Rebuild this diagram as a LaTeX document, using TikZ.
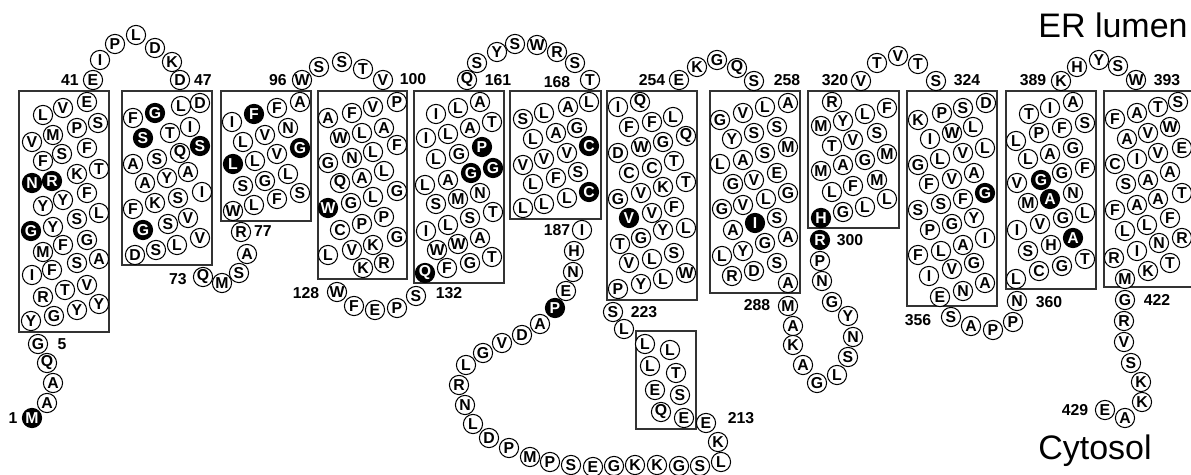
\documentclass[tikz,border=0pt]{standalone}
\usepackage{fontspec}
\setmainfont{Liberation Sans}
\usetikzlibrary{positioning}
\tikzset{
  reso/.style={circle, draw=black, fill=white, line width=0.5pt, inner sep=0pt,
               minimum size=9.6pt, font=\bfseries\fontsize{7.9}{8}\selectfont},
  resb/.style={reso, fill=black, text=white},
  tmbox/.style={draw=black!80, line width=0.7pt},
  num/.style={font=\bfseries\fontsize{7.9}{8}\selectfont, inner sep=0pt},
  side/.style={font=\fontsize{17}{18}\selectfont, inner sep=0pt},
}
% one segment of the chain: name, list of x/y/letter/(o|b)
\newcommand{\resseg}[2]{%
  \foreach \x/\y/\a/\s [count=\i] in {#2} {\node[res\s] (#1-\i) at (\x,\y) {\a};}}
\begin{document}
\begin{tikzpicture}[x=0.5pt,y=-0.5pt]
  \useasboundingbox (0,0) rectangle (1191,475);
  % membrane boxes
  \draw[tmbox] (19,91) rectangle (109,332);
  \draw[tmbox] (122,91) rectangle (212,265);
  \draw[tmbox] (221,91) rectangle (311,221);
  \draw[tmbox] (318,91) rectangle (407,279);
  \draw[tmbox] (414,91) rectangle (504,283);
  \draw[tmbox] (510,91) rectangle (601,219);
  \draw[tmbox] (636,331) rectangle (696,429);
  \draw[tmbox] (607,91) rectangle (697,300);
  \draw[tmbox] (710,91) rectangle (800,293);
  \draw[tmbox] (808,91) rectangle (899,228);
  \draw[tmbox] (907,91) rectangle (997,306);
  \draw[tmbox] (1006,91) rectangle (1096,289);
  \draw[tmbox] (1200,91) -- (1104,91) -- (1104,287) -- (1200,287);
  % residues
  \resseg{nt}{32/418/M/b, 47/403/A/o, 53/383/A/o, 47/363/Q/o, 38/344/G/o}
  \resseg{tm1}{87/102/E/o, 43/115/L/o, 63/108/V/o, 77/128/P/o, 98/123/S/o, 32/142/V/o,
    53/135/M/o, 87/148/F/o, 62/154/S/o, 43/161/F/o, 99/169/T/o, 77/174/K/o, 32/183/N/b,
    52/181/R/b, 87/193/F/o, 43/206/Y/o, 63/200/Y/o, 99/213/L/o, 77/219/S/o, 31/231/G/b,
    53/227/Y/o, 87/240/G/o, 43/252/M/o, 63/245/F/o, 77/263/S/o, 99/259/A/o, 32/275/I/o,
    52/270/F/o, 87/285/V/o, 65/290/T/o, 43/297/R/o, 99/304/Y/o, 77/310/Y/o, 54/316/G/o,
    31/321/Y/o}
  \resseg{l1}{93/80/E/o, 100/60/I/o, 115/44/P/o, 136/35/L/o, 155/48/D/o, 172/62/K/o, 180/80/D/o}
  \resseg{tm2}{200/103/D/o, 181/106/L/o, 155/113/G/b, 133/118/F/o, 190/127/I/o, 170/133/T/o,
    143/138/S/b, 200/146/S/b, 180/153/Q/o, 157/159/S/o, 133/164/A/o, 188/172/A/o, 167/178/Y/o,
    145/183/A/o, 202/192/I/o, 178/198/S/o, 155/203/K/o, 133/209/F/o, 188/218/V/o, 168/224/S/o,
    143/230/G/b, 200/238/V/o, 177/245/L/o, 156/250/S/o, 135/255/D/o}
  \resseg{l2}{203/277/Q/o, 222/283/M/o, 239/273/S/o, 247/254/A/o, 241/232/R/o}
  \resseg{tm3}{300/102/A/o, 277/108/F/o, 254/114/F/b, 232/122/I/o, 288/128/N/o, 265/135/V/o,
    243/142/L/o, 300/148/G/b, 277/154/V/o, 233/164/L/b, 255/161/L/o, 288/174/L/o, 265/181/G/o,
    243/186/S/o, 300/193/S/o, 277/199/F/o, 254/205/L/o, 233/211/W/o}
  \resseg{l3}{302/80/W/o, 319/67/S/o, 342/62/S/o, 363/69/T/o, 383/80/V/o}
  \resseg{tm4}{397/102/P/o, 373/107/V/o, 352/113/F/o, 328/118/A/o, 384/128/A/o, 362/133/L/o,
    340/138/W/o, 397/145/F/o, 373/152/L/o, 352/158/N/o, 328/163/G/o, 384/171/L/o, 362/178/A/o,
    340/183/Q/o, 397/191/G/o, 373/197/L/o, 351/203/G/o, 328/208/W/b, 384/217/P/o, 362/224/P/o,
    340/230/C/o, 397/237/G/o, 373/245/K/o, 352/250/V/o, 328/255/L/o, 384/263/R/o, 363/268/K/o}
  \resseg{l4}{337/292/W/o, 354/306/F/o, 375/310/E/o, 397/308/P/o, 416/296/S/o}
  \resseg{tm5}{480/102/A/o, 458/108/L/o, 436/114/I/o, 492/122/T/o, 470/128/A/o, 448/134/L/o,
    426/138/I/o, 482/147/P/b, 459/154/G/o, 436/159/L/o, 493/168/G/b, 471/173/G/b, 448/180/A/o,
    425/185/L/o, 480/193/N/o, 458/199/M/o, 436/204/S/o, 493/212/T/o, 470/218/S/o, 448/225/L/o,
    426/231/I/o, 480/238/A/o, 458/244/W/o, 437/250/W/o, 492/257/T/o, 470/263/G/o, 447/268/F/o,
    425/273/Q/b}
  \resseg{l5}{467/80/Q/o, 477/63/S/o, 497/52/Y/o, 515/44/S/o, 537/45/W/o, 557/52/R/o,
    575/63/S/o, 590/80/T/o}
  \resseg{tm6}{589/102/L/o, 568/107/A/o, 544/113/L/o, 523/119/S/o, 577/128/G/o, 556/133/A/o,
    533/139/L/o, 589/146/C/b, 567/153/V/o, 544/159/V/o, 523/165/V/o, 578/172/S/o, 556/178/F/o,
    533/184/L/o, 589/192/C/b, 567/198/L/o, 544/204/L/o, 523/208/L/o}
  \resseg{l6}{582/230/I/o, 574/251/H/o, 573/272/N/o, 566/291/E/o, 555/308/P/b, 540/324/A/o,
    522/335/D/o, 502/343/V/o, 483/353/G/o, 466/365/L/o, 459/385/R/o, 465/405/N/o, 473/424/L/o,
    489/438/D/o, 509/448/P/o, 530/457/M/o, 550/462/P/o, 571/465/S/o, 593/467/E/o, 614/466/G/o,
    635/465/K/o, 657/465/K/o, 679/466/G/o, 700/466/S/o, 721/462/L/o, 718/442/K/o, 706/423/E/o}
  \resseg{tm7}{684/418/E/o, 661/412/Q/o, 680/395/S/o, 655/390/E/o, 676/373/T/o, 650/366/L/o,
    670/350/L/o, 645/344/L/o}
  \resseg{l7}{624/329/L/o, 613/312/S/o}
  \resseg{tm8}{640/102/Q/o, 618/107/I/o, 673/117/L/o, 652/122/F/o, 629/127/F/o, 686/136/Q/o,
    663/142/G/o, 641/147/W/o, 618/153/D/o, 674/161/T/o, 652/168/C/o, 629/173/C/o, 686/182/T/o,
    663/187/K/o, 641/193/V/o, 618/199/G/o, 674/207/F/o, 652/213/V/o, 629/218/V/b, 686/228/L/o,
    663/230/Y/o, 641/238/G/o, 620/244/T/o, 674/253/S/o, 652/259/L/o, 629/263/V/o, 686/273/W/o,
    663/279/L/o, 641/284/Y/o, 618/289/P/o}
  \resseg{l8}{679/80/E/o, 697/67/K/o, 717/60/G/o, 737/68/Q/o, 754/81/S/o}
  \resseg{tm9}{788/103/A/o, 765/107/L/o, 743/113/V/o, 720/120/G/o, 777/127/S/o, 754/133/S/o,
    732/139/Y/o, 788/147/M/o, 765/153/S/o, 743/160/A/o, 720/164/L/o, 777/173/E/o, 754/180/V/o,
    733/184/G/o, 788/193/G/o, 766/199/L/o, 743/205/V/o, 722/209/G/o, 777/218/S/o, 755/223/I/b,
    733/230/A/o, 788/237/A/o, 765/243/G/o, 743/251/Y/o, 722/256/L/o, 777/263/S/o, 754/271/D/o,
    732/276/R/o, 788/283/A/o}
  \resseg{l9}{788/306/M/o, 793/326/A/o, 793/345/K/o, 803/365/A/o, 817/383/G/o, 837/375/L/o,
    848/357/S/o, 853/337/N/o, 848/316/Y/o, 832/302/G/o, 822/281/N/o, 820/261/P/o, 820/240/R/b}
  \resseg{tm10}{832/102/R/o, 887/108/F/o, 865/114/L/o, 843/121/Y/o, 821/126/M/o, 877/133/S/o,
    853/140/V/o, 832/146/T/o, 887/154/M/o, 865/160/G/o, 843/165/A/o, 821/171/M/o, 877/180/M/o,
    853/186/F/o, 832/192/L/o, 887/199/L/o, 865/207/L/o, 843/212/G/o, 821/218/H/b}
  \resseg{l10}{861/81/V/o, 877/63/T/o, 898/56/V/o, 918/64/T/o, 936/81/S/o}
  \resseg{tm11}{986/103/D/o, 963/108/S/o, 942/113/P/o, 918/120/K/o, 973/127/L/o, 952/133/W/o,
    930/139/I/o, 985/148/L/o, 963/153/V/o, 940/159/L/o, 918/165/G/o, 974/173/A/o, 952/179/V/o,
    929/184/F/o, 985/193/G/b, 963/199/F/o, 941/204/S/o, 918/210/S/o, 974/218/Y/o, 952/224/G/o,
    930/230/P/o, 985/238/I/o, 963/245/A/o, 941/251/L/o, 918/255/F/o, 974/263/G/o, 952/269/V/o,
    929/276/I/o, 985/283/A/o, 963/291/N/o, 940/297/E/o}
  \resseg{l11}{951/317/S/o, 971/326/A/o, 993/330/P/o, 1013/322/P/o, 1017/301/N/o}
  \resseg{tm12}{1073/102/A/o, 1050/108/I/o, 1029/114/T/o, 1085/123/S/o, 1062/128/F/o,
    1039/133/P/o, 1016/141/L/o, 1073/148/G/o, 1050/154/A/o, 1028/159/L/o, 1085/168/F/o,
    1062/173/G/o, 1041/180/G/b, 1017/183/V/o, 1073/193/N/o, 1050/199/A/b, 1028/203/M/o,
    1085/213/L/o, 1063/218/G/o, 1040/224/V/o, 1017/230/I/o, 1073/238/A/b, 1051/245/H/o,
    1028/251/S/o, 1085/259/T/o, 1062/266/G/o, 1039/271/C/o, 1016/279/L/o}
  \resseg{l12}{1061/81/K/o, 1077/67/H/o, 1099/60/Y/o, 1118/66/S/o, 1136/80/W/o}
  \resseg{tm13}{1178/102/S/o, 1158/107/T/o, 1137/113/A/o, 1115/119/F/o, 1170/127/W/o,
    1148/133/V/o, 1127/139/A/o, 1182/148/E/o, 1158/153/V/o, 1137/159/I/o, 1115/164/C/o,
    1170/172/A/o, 1148/180/A/o, 1126/184/S/o, 1182/193/T/o, 1158/199/A/o, 1137/205/A/o,
    1115/210/F/o, 1170/218/F/o, 1147/225/L/o, 1125/231/L/o, 1182/238/R/o, 1159/243/N/o,
    1137/251/I/o, 1114/258/R/o, 1170/263/T/o, 1148/271/K/o, 1125/279/M/o}
  \resseg{ct}{1125/300/G/o, 1124/321/R/o, 1124/342/V/o, 1131/363/S/o, 1141/382/K/o,
    1142/402/K/o, 1125/418/A/o, 1105/410/E/o}
  % residue numbers
  \foreach \x/\y/\t in {13/418/1, 62/344/5, 70/80/41, 203/80/47, 178/279/73, 263/231/77,
    278/80/96, 413/79/100, 306/293/128, 449/293/132, 498/80/161, 557/82/168, 557/230/187,
    741/418/213, 644/312/223, 652/80/254, 787/80/258, 757/305/288, 850/240/300, 835/80/320,
    967/80/324, 918/320/356, 1049/302/360, 1033/80/389, 1167/80/393, 1157/300/422,
    1075/410/429}
    \node[num] (n\t) at (\x,\y) {\t};
  % compartments
  \node[side] (lumen) at (1113,25) {ER lumen};
  \node[side] (cyto) at (1095,451) {Cytosol};
\end{tikzpicture}
\end{document}
